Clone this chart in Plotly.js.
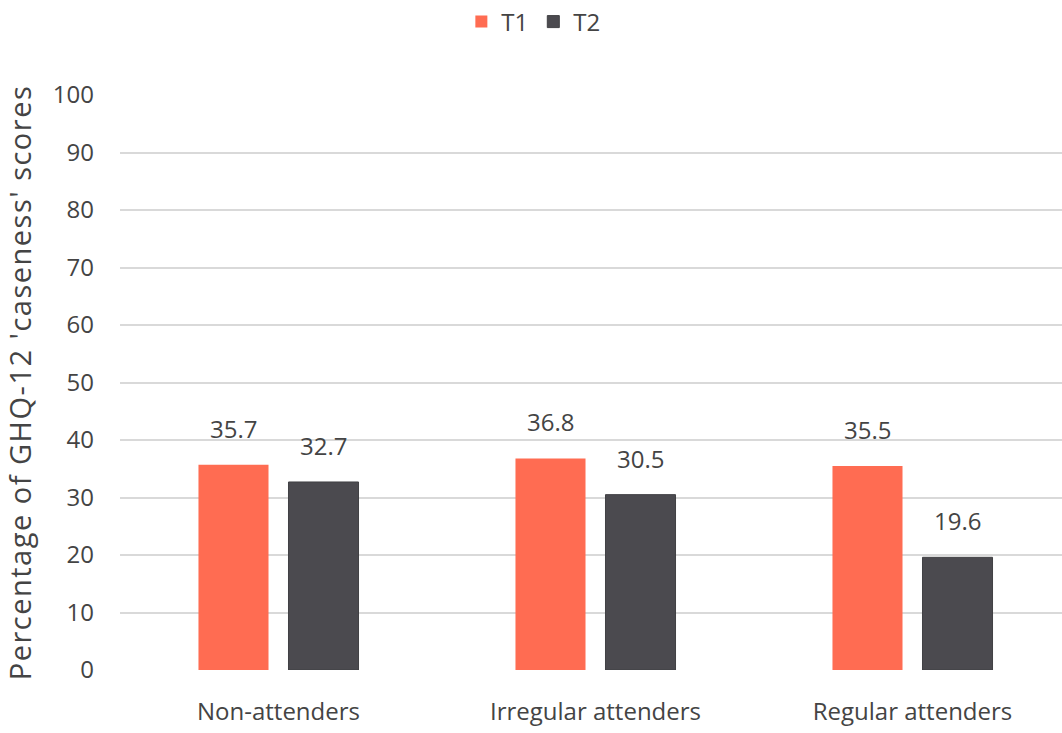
<!DOCTYPE html>
<html>
<head>
<meta charset="utf-8">
<script src="https://cdn.plot.ly/plotly-3.0.1.min.js"></script>
<style>
  html, body { margin: 0; padding: 0; overflow: hidden; background: #ffffff; }
  #chart { width: 1071px; height: 733px; }
  #chart .ytitle { letter-spacing: 1.5px; }
</style>
</head>
<body>
<div id="chart"></div>
<script>
// Attendance groups and the share of GHQ-12 'caseness' scores at each time point
const groups = ['Non-attenders', 'Irregular attenders', 'Regular attenders'];
const t1Values = [35.7, 36.8, 35.5];
const t2Values = [32.7, 30.5, 19.6];
const seriesNames = ['T1', 'T2'];
const yTicks = [0, 10, 20, 30, 40, 50, 60, 70, 80, 90, 100];

const textColor = '#444444';
const fontFamily = '"Open Sans", "Liberation Sans", sans-serif';
const barGap = 0.432;
const barGroupGap = 0.222;

const traces = [
  {
    type: 'bar', name: seriesNames[0], x: groups, y: t1Values,
    marker: { color: '#FF6C52' }, hoverinfo: 'x+y'
  },
  {
    type: 'bar', name: seriesNames[1], x: groups, y: t2Values,
    marker: { color: '#4B4A4F', line: { color: '#404044', width: 1 } }, hoverinfo: 'x+y'
  }
];

// Value labels above each bar; a bar's centre sits a quarter of the group slot from the category centre
const slotOffset = (1 - barGap) / 4;
const annotations = [];
[t1Values, t2Values].forEach((vals, s) => {
  vals.forEach((v, i) => {
    annotations.push({
      x: i + (s === 0 ? -slotOffset : slotOffset), y: v,
      xref: 'x', yref: 'y',
      text: v.toFixed(1), showarrow: false,
      yanchor: 'bottom', yshift: 18,
      font: { family: fontFamily, size: 24, color: textColor }
    });
  });
});

const layout = {
  width: 1071, height: 733,
  margin: { l: 120, r: 0, t: 95, b: 63 },
  paper_bgcolor: '#ffffff', plot_bgcolor: '#ffffff',
  barmode: 'group', bargap: barGap, bargroupgap: barGroupGap,
  font: { family: fontFamily, size: 24, color: textColor },
  showlegend: true,
  legend: {
    orientation: 'h', xref: 'container', yref: 'container',
    x: 0.498, xanchor: 'center', y: 1 - 22 / 733, yanchor: 'middle',
    font: { family: fontFamily, size: 24, color: textColor },
    itemclick: false, itemdoubleclick: false
  },
  xaxis: {
    type: 'category', showgrid: false, zeroline: false, showline: false,
    ticks: '', ticklabelstandoff: 25,
    tickfont: { family: fontFamily, size: 24, color: textColor }
  },
  yaxis: {
    range: [0, 100], tickvals: yTicks, ticktext: yTicks.map(String),
    showgrid: true, gridcolor: '#D9D9D9', gridwidth: 2,
    zeroline: false, showline: false, ticks: '', ticklabelstandoff: 25,
    tickfont: { family: fontFamily, size: 24, color: textColor },
    title: {
      text: "Percentage of GHQ-12 'caseness' scores",
      font: { family: fontFamily, size: 29, color: textColor },
      standoff: 12
    }
  },
  annotations: annotations
};

Plotly.newPlot('chart', traces, layout, { displayModeBar: false, staticPlot: true });
</script>
</body>
</html>
